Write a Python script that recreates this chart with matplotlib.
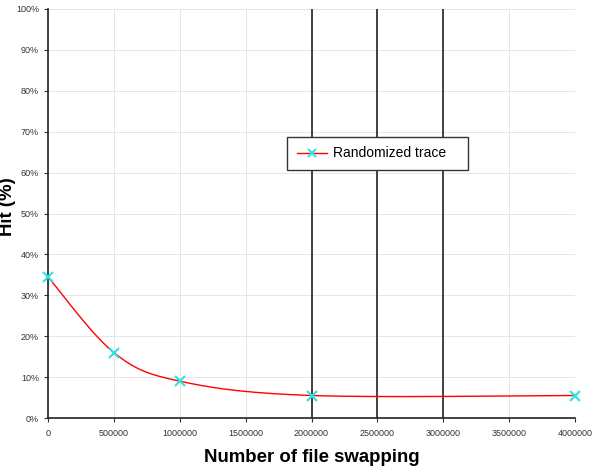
import numpy as np
import matplotlib
matplotlib.use("Agg")
import matplotlib.pyplot as plt
from matplotlib.lines import Line2D

plt.rcParams['font.family'] = ['Liberation Sans', 'DejaVu Sans']

x_vals = [0, 500000, 1000000, 2000000, 4000000]
hit_vals = [34.5, 16.0, 9.0, 5.5, 5.5]
series_name = "Randomized trace"
vlines_x = [2000000, 2500000, 3000000]
x_ticks = [0, 500000, 1000000, 1500000, 2000000, 2500000, 3000000, 3500000, 4000000]
y_ticks = list(range(0, 101, 10))

def excel_smooth(xs, ys, n=60):
    xs = np.asarray(xs, float); ys = np.asarray(ys, float)
    px = np.concatenate([[xs[0]], xs, [xs[-1]]])
    py = np.concatenate([[ys[0]], ys, [ys[-1]]])
    outx, outy = [], []
    for i in range(1, len(px) - 2):
        p0 = np.array([px[i-1], py[i-1]]); p1 = np.array([px[i], py[i]])
        p2 = np.array([px[i+1], py[i+1]]); p3 = np.array([px[i+2], py[i+2]])
        c1 = p1 + (p2 - p0) / 6.0
        c2 = p2 - (p3 - p1) / 6.0
        t = np.linspace(0, 1, n)[:, None]
        b = (1-t)**3*p1 + 3*(1-t)**2*t*c1 + 3*(1-t)*t**2*c2 + t**3*p2
        outx.extend(b[:, 0]); outy.extend(b[:, 1])
    return np.array(outx), np.array(outy)

fig = plt.figure(figsize=(5.95, 4.68), dpi=100)
ax = fig.add_axes([48/595, 50/468, 527/595, 409/468])
ax.set_xlim(0, 4000000)
ax.set_ylim(0, 100)
ax.set_xticks(x_ticks)
ax.set_xticklabels([str(v) for v in x_ticks])
ax.set_yticks(y_ticks)
ax.set_yticklabels([f"{v}%" for v in y_ticks])
ax.tick_params(labelsize=6.5, colors="#333333", length=3, width=0.8)
ax.tick_params(axis="x", pad=5)
ax.grid(True, color="#e6e6e6", linewidth=0.7)
ax.set_axisbelow(True)
for s in ["top", "right"]:
    ax.spines[s].set_visible(False)
for s in ["left", "bottom"]:
    ax.spines[s].set_linewidth(1.2)
    ax.spines[s].set_color("#222222")

for vx in vlines_x:
    ax.axvline(vx, color="#333333", linewidth=1.3, zorder=2)

sx, sy = excel_smooth(x_vals, hit_vals)
ax.plot(sx, sy, color="red", linewidth=1.0, zorder=3)
ax.plot(x_vals, hit_vals, linestyle="none", marker="x", color="#33e0e0",
        markersize=7, markeredgewidth=1.5, zorder=4, clip_on=False)

handle = Line2D([], [], color="red", linewidth=1.0, marker="x",
                markeredgecolor="#33e0e0", markersize=6, markeredgewidth=1.5)
leg = ax.legend([handle], [series_name], loc="lower left",
                bbox_to_anchor=(0.4535, 0.606, 0.344, 0.081), mode="expand",
                borderaxespad=0, fontsize=10, frameon=True, fancybox=False,
                borderpad=0.7, handlelength=2.2, handletextpad=0.4, framealpha=1)
leg.get_frame().set_edgecolor("#333333")
leg.get_frame().set_linewidth(1.0)

ax.set_xlabel("Number of file swapping", fontsize=13.4, fontweight="bold")
ax.set_ylabel("Hit (%)", fontsize=13.4, fontweight="bold")
ax.xaxis.set_label_coords(0.5, -(457 - 418) / 409, transform=ax.transAxes)
ax.yaxis.set_label_coords(-(48 - 8) / 527, (418 - 207) / 409)
ax.xaxis.label.set_va("center")
ax.yaxis.label.set_va("center")

fig.savefig("out.png", dpi=100)
